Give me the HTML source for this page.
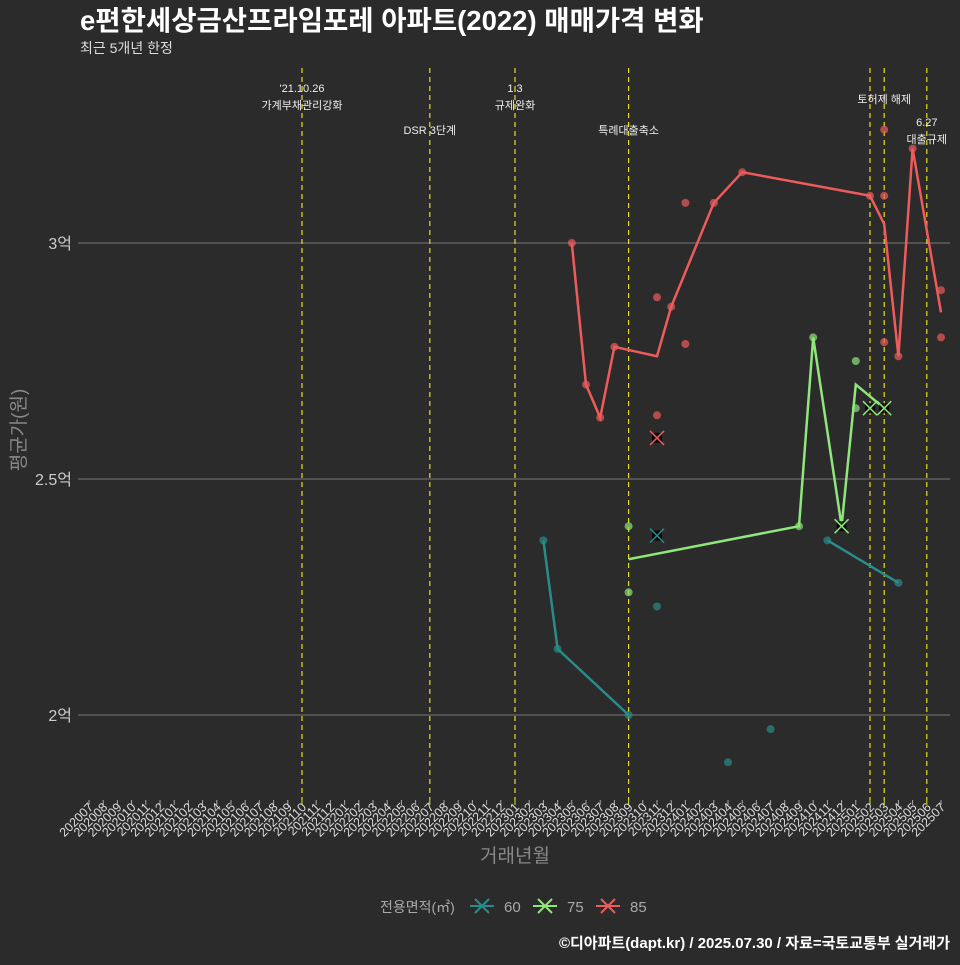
<!DOCTYPE html>
<html><head><meta charset="utf-8"><style>
body{margin:0;background:#2b2b2b;}
svg text{font-family:"Liberation Sans","Noto Sans CJK KR",sans-serif;}
</style></head><body>
<svg id="c" width="960" height="960" xmlns="http://www.w3.org/2000/svg">
<rect width="960" height="960" fill="#2b2b2b"/>
<text x="80" y="30" fill="#fff" font-size="27.5" font-weight="bold">e편한세상금산프라임포레 아파트(2022) 매매가격 변화</text>
<text x="80" y="53" fill="#ddd" font-size="14">최근 5개년 한정</text>
<g id="grid"></g><g id="vl"></g><g id="marks"></g><g id="xt"></g>
<text x="515" y="862" fill="#888" font-size="19" text-anchor="middle">거래년월</text>
<text transform="translate(25,430) rotate(-90)" fill="#888" font-size="19" text-anchor="middle">평균가(원)</text>
<g>
<text x="380" y="912" fill="#aaa" font-size="14">전용면적(㎡)</text>
<g id="leg"></g>
</g>
<text x="950" y="948" fill="#fff" font-size="15" font-weight="bold" text-anchor="end">©디아파트(dapt.kr) / 2025.07.30 / 자료=국토교통부 실거래가</text>
</svg>
<script>
const months=[];for(let y=2020;y<=2025;y++)for(let m=1;m<=12;m++){const k=y*100+m;if(k>=202007&&k<=202507)months.push(String(k));}
const yTicks=[2,2.5,3];
const yTickLabels=["2억","2.5억","3억"];
const vMonths=["202110","202207","202301","202309","202502","202503","202506"];
const annots=[["202110",["'21.10.26","가계부채관리강화"],92],["202207",["DSR 3단계"],134],["202301",["1.3","규제완화"],92],["202309",["특례대출축소"],134],["202503",["토허제 해제"],103],["202506",["6.27","대출규제"],126]];
const seriesNames=["60","75","85"];
const colors=["#2a8c8a","#8fe67a","#ee5b5b"];
const line60=[["202303",2.37],["202304",2.14],["202309",2.0],null,["202411",2.37],["202504",2.28]];
const pts60=[["202303",2.37],["202304",2.14],["202309",2.0],["202311",2.23],["202404",1.90],["202407",1.97],["202411",2.37],["202504",2.28]];
const x60=[["202311",2.38]];
const line75=[["202309",2.33],["202409",2.40],["202410",2.80],["202412",2.40],["202501",2.70],["202503",2.65]];
const pts75=[["202309",2.40],["202309",2.26],["202409",2.40],["202410",2.80],["202501",2.75],["202501",2.65]];
const x75=[["202412",2.40],["202502",2.65],["202503",2.65]];
const line85=[["202305",3.0],["202306",2.70],["202307",2.63],["202308",2.78],["202311",2.76],["202312",2.865],["202403",3.085],["202405",3.15],["202502",3.10],["202503",3.04],["202504",2.76],["202505",3.2],["202507",2.853]];
const pts85=[["202305",3.0],["202306",2.70],["202307",2.63],["202308",2.78],["202311",2.885],["202311",2.635],["202312",2.865],["202401",3.085],["202401",2.786],["202403",3.085],["202405",3.15],["202502",3.10],["202503",3.24],["202503",3.10],["202503",2.79],["202504",2.76],["202505",3.2],["202507",2.90],["202507",2.80]];
const x85=[["202311",2.587]];
const NS="http://www.w3.org/2000/svg";
const X=m=>89+14.2*months.indexOf(m);
const Y=v=>243+(3-v)*472;
function el(t,a,p){const e=document.createElementNS(NS,t);for(const k in a)e.setAttribute(k,a[k]);document.getElementById(p).appendChild(e);return e;}
yTicks.forEach((v,i)=>{
 const l=el('line',{x1:78,x2:950,y1:Y(v),y2:Y(v),stroke:'#777','stroke-width':1},'grid');
 
 
 const t=el('text',{x:72,y:Y(v)+6,fill:'#ccc','font-size':16,'text-anchor':'end'},'grid');t.textContent=yTickLabels[i];
 
 
});
vMonths.forEach(m=>{
 const l=el('line',{x1:X(m),x2:X(m),y1:68,y2:800,stroke:'#e0e020','stroke-width':1.2,'stroke-dasharray':'5,4'},'vl');
 
 
});
annots.forEach(a=>{a[1].forEach((s,i)=>{
 const t=el('text',{x:X(a[0]),y:a[2]+i*17,fill:'#eee','font-size':11,'text-anchor':'middle'},'vl');t.textContent=s;
 
 
});});
months.forEach(m=>{
 const l=el('line',{x1:X(m),x2:X(m),y1:800,y2:805,stroke:vMonths.includes(m)?'#e0e020':'#aaa'},'xt');
 
 
 const t=el('text',{transform:`translate(${X(m)+5},${808}) rotate(-45)`,fill:'#ddd','font-size':12.5,'text-anchor':'end'},'xt');t.textContent=m;
 
 
});
function drawLine(arr,c){let segs=[],cur=[];arr.forEach(p=>{if(!p){segs.push(cur);cur=[];}else cur.push(p);});segs.push(cur);
 segs.forEach(s=>{const pl=el('polyline',{points:s.map(p=>X(p[0])+','+Y(p[1])).join(' '),fill:'none',stroke:c,'stroke-width':2.5},'marks');
 
 });}
function drawPts(arr,c){arr.forEach(p=>{const e=el('circle',{cx:X(p[0]),cy:Y(p[1]),r:4,fill:c,opacity:0.7},'marks');
 
 });}
function drawX(arr,c){arr.forEach(p=>{const x=X(p[0]),y=Y(p[1]);
 const r=el('rect',{x:x-5,y:y-5,width:10,height:10,fill:'#000',opacity:0.8},'marks');
 
 
 const e=el('path',{d:`M${x-7},${y-7}L${x+7},${y+7}M${x-7},${y+7}L${x+7},${y-7}`,stroke:c,'stroke-width':1.5},'marks');
 
 });}
drawLine(line60,colors[0]);drawPts(pts60,colors[0]);drawX(x60,colors[0]);
drawLine(line75,colors[1]);drawPts(pts75,colors[1]);drawX(x75,colors[1]);
drawLine(line85,colors[2]);drawPts(pts85,colors[2]);drawX(x85,colors[2]);
seriesNames.forEach((n,i)=>{const x=470+i*63,y=906;
 const g=el('path',{d:`M${x},${y}L${x+24},${y}M${x+5},${y-7}L${x+19},${y+7}M${x+5},${y+7}L${x+19},${y-7}`,stroke:colors[i],'stroke-width':2},'leg');
 
 
 const t=el('text',{x:x+34,y:y+6,fill:'#aaa','font-size':15},'leg');t.textContent=n;
 
 
});
</script>
</body></html>
